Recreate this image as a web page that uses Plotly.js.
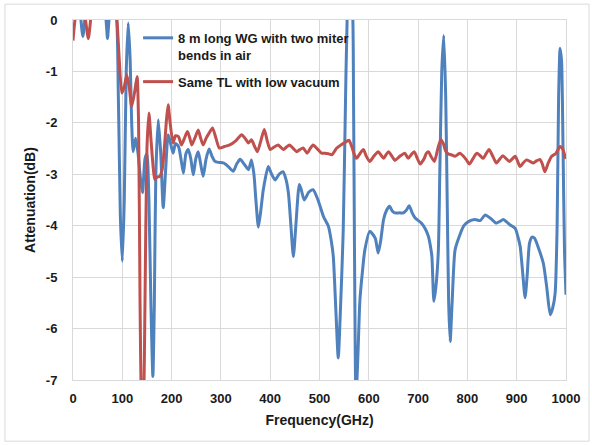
<!DOCTYPE html>
<html>
<head>
<meta charset="utf-8">
<script src="https://cdn.plot.ly/plotly-3.0.1.min.js"></script>
<style>html,body{margin:0;padding:0;background:#fff;}#chart{width:592px;height:445px;}</style>
</head>
<body>
<div id="chart"></div>
<script>
// Blue series: 8 m long WG with two miter bends in air
var blueFreq = [0,8,14,20,26,35,50,62,67,70,73,78,86,92,96,100,104,108,112,116,119,122,127,132,137,141,146,150,154,158,162,165,168,173,178,183,188,193,197,203,208,214,219,224,229,234,239,244,249,254,259,264,270,276,282,288,296,305,315,325,332,339,347,356,362,367,371,376,381,386,396,403,410,418,426,432,437,442,447,452,459,463,469,478,487,497,508,518,524,528,533,538,543,548,552,556,560,566,569,571,574,578,582,587,592,602,613,619,624,630,636,642,648,653,662,670,676,682,688,694,707,715,721,725,728,732,736,741,744,748,752,756,759,762,765,769,775,785,793,802,815,826,836,846,852,858,865,873,880,886,897,902,907,912,917,921,926,931,936,944,954,961,968,973,978,982,985,988,991,994,997,1000];
var blueAtt = [0.5,0.6,0.2,-0.32,0.2,0.6,0.6,0.3,0.0,-0.36,0.0,0.4,0.3,-1.5,-3.8,-4.69,-3.5,-1.0,-0.06,-0.8,-2.0,-2.56,-2.3,-2.6,-3.1,-3.36,-2.7,-2.6,-3.5,-5.5,-6.93,-5.5,-3.0,-1.94,-2.6,-3.65,-2.9,-2.23,-2.36,-2.59,-2.4,-2.46,-2.7,-2.98,-2.6,-2.52,-2.7,-3.01,-2.7,-2.56,-2.8,-3.04,-2.7,-2.51,-2.65,-2.75,-2.77,-2.78,-2.85,-2.94,-2.8,-2.71,-2.8,-2.91,-2.72,-3.0,-3.5,-4.03,-3.7,-3.3,-2.85,-3.0,-3.11,-3.0,-2.95,-3.1,-3.37,-4.0,-4.6,-4.0,-3.2,-3.3,-3.5,-3.35,-3.3,-3.5,-3.82,-4.01,-4.3,-4.6,-5.6,-6.57,-5.5,-4.14,-2.0,0.0,0.6,0.4,-1.5,-4.5,-7.4,-6.5,-5.44,-4.9,-4.47,-4.11,-4.24,-4.53,-4.3,-3.88,-3.7,-3.62,-3.72,-3.75,-3.75,-3.75,-3.7,-3.61,-3.75,-3.85,-3.95,-4.07,-4.21,-4.4,-4.6,-5.47,-5.2,-4.5,-3.0,-1.0,-0.3,-1.5,-3.5,-5.5,-6.25,-5.5,-4.47,-4.17,-4.0,-3.92,-3.88,-3.9,-3.79,-3.85,-3.9,-3.95,-3.92,-3.88,-3.93,-3.98,-4.05,-4.2,-4.4,-4.9,-5.4,-5.0,-4.34,-4.22,-4.24,-4.43,-4.73,-5.2,-5.73,-5.6,-5.31,-4.0,-1.5,-0.55,-0.8,-2.5,-4.5,-5.34];

// Red series: Same TL with low vacuum
var redFreq = [0,4,10,18,24,31,37,45,60,75,84,89,94,99,104,109,114,119,125,130,133,136,139,141,143,146,150,154,158,163,166,171,176,181,186,190,193,197,203,208,214,220,226,232,237,241,247,254,259,264,270,276,283,290,297,307,318,330,342,349,356,362,368,374,381,388,394,400,408,416,421,427,433,439,447,454,460,467,475,481,487,495,504,511,518,525,535,545,555,560,565,570,575,582,589,595,602,610,619,625,630,635,640,647,653,663,673,680,686,692,698,704,712,717,721,726,733,740,746,751,756,761,767,775,780,785,792,798,804,811,819,826,832,838,844,852,859,866,872,879,885,891,897,902,907,913,920,927,934,940,947,952,957,964,971,979,984,988,993,998,1000];
var redAtt = [-0.4,0.0,0.3,0.4,0.1,-0.36,0.1,0.5,0.6,0.5,0.3,0.0,-0.8,-1.42,-1.3,-1.07,-1.3,-1.68,-1.4,-1.1,-2.0,-5.5,-7.8,-8.2,-7.8,-5.5,-2.5,-1.81,-2.3,-2.9,-3.1,-3.05,-3.04,-2.9,-2.4,-1.9,-1.65,-2.0,-2.39,-2.25,-2.27,-2.43,-2.3,-2.17,-2.3,-2.43,-2.3,-2.14,-2.3,-2.43,-2.3,-2.2,-2.1,-2.3,-2.49,-2.46,-2.43,-2.35,-2.23,-2.3,-2.39,-2.33,-2.45,-2.56,-2.35,-2.13,-2.35,-2.52,-2.47,-2.43,-2.47,-2.52,-2.47,-2.43,-2.5,-2.56,-2.52,-2.49,-2.59,-2.5,-2.43,-2.5,-2.59,-2.59,-2.6,-2.62,-2.49,-2.42,-2.36,-2.34,-2.45,-2.6,-2.69,-2.6,-2.52,-2.65,-2.75,-2.65,-2.56,-2.63,-2.69,-2.62,-2.56,-2.65,-2.73,-2.65,-2.59,-2.69,-2.62,-2.56,-2.68,-2.8,-2.7,-2.59,-2.56,-2.65,-2.75,-2.5,-2.33,-2.4,-2.55,-2.6,-2.62,-2.65,-2.62,-2.59,-2.65,-2.72,-2.8,-2.7,-2.59,-2.64,-2.69,-2.6,-2.52,-2.66,-2.78,-2.7,-2.64,-2.7,-2.75,-2.7,-2.65,-2.75,-2.85,-2.78,-2.72,-2.75,-2.78,-2.74,-2.71,-2.8,-2.95,-2.78,-2.65,-2.6,-2.52,-2.46,-2.5,-2.65,-2.7];

var xTickVals = [0,100,200,300,400,500,600,700,800,900,1000];
var yTickVals = [0,-1,-2,-3,-4,-5,-6,-7];

var FONT = 'Liberation Sans, Arial, sans-serif';
var TXT = '#1a1a1a';
var GRID = '#d9d9d9';

var traces = [
  {x: blueFreq, y: blueAtt, type: 'scatter', mode: 'lines',
   name: '<b>8 m long WG with two miter<br>bends in air</b>', legendgroup: 'a',
   line: {color: '#4f81bd', width: 3, shape: 'spline', smoothing: 0.6}},
  {x: redFreq, y: redAtt, type: 'scatter', mode: 'lines',
   name: '<b>Same TL with low vacuum</b>', legendgroup: 'b',
   line: {color: '#c0504d', width: 3, shape: 'spline', smoothing: 0.6}}
];

var layout = {
  width: 592, height: 445,
  margin: {l: 73, r: 26, t: 20, b: 65},
  paper_bgcolor: '#fff', plot_bgcolor: '#fff',
  font: {family: FONT, color: TXT, size: 13},
  showlegend: true,
  legend: {x: 0.132, y: 0.992, xanchor: 'left', yanchor: 'top', bgcolor: 'rgba(0,0,0,0)',
           font: {family: FONT, size: 13, color: TXT}, valign: 'top', tracegroupgap: 7,
           traceorder: 'grouped'},
  xaxis: {range: [0, 1000], tickvals: xTickVals, ticktext: xTickVals.map(function(v){return '<b>'+v+'</b>';}),
          showgrid: true, gridcolor: GRID, gridwidth: 1, zeroline: false,
          showline: true, linecolor: GRID, linewidth: 1, mirror: true, ticks: '',
          ticklabelstandoff: 6, tickfont: {size: 13, family: FONT, color: TXT},
          title: {text: '<b>Frequency(GHz)</b>', font: {size: 14, family: FONT, color: TXT}, standoff: 10}},
  yaxis: {range: [-7, 0], tickvals: yTickVals, ticktext: yTickVals.map(function(v){return '<b>'+v+'</b>';}),
          showgrid: true, gridcolor: GRID, gridwidth: 1, zeroline: false,
          showline: true, linecolor: GRID, linewidth: 1, mirror: true, ticks: '',
          ticklabelstandoff: 12, tickfont: {size: 13, family: FONT, color: TXT},
          title: {text: '<b>Attenuation(dB)</b>', font: {size: 14, family: FONT, color: TXT}, standoff: 6}},
  shapes: [
    {type: 'rect', xref: 'paper', yref: 'paper', x0: -0.138, x1: 1.0467, y0: -0.17, y1: 1.044,
     line: {color: GRID, width: 1}, fillcolor: 'rgba(0,0,0,0)', layer: 'below'}
  ]
};

Plotly.newPlot('chart', traces, layout, {displayModeBar: false, staticPlot: true});
</script>
</body>
</html>
